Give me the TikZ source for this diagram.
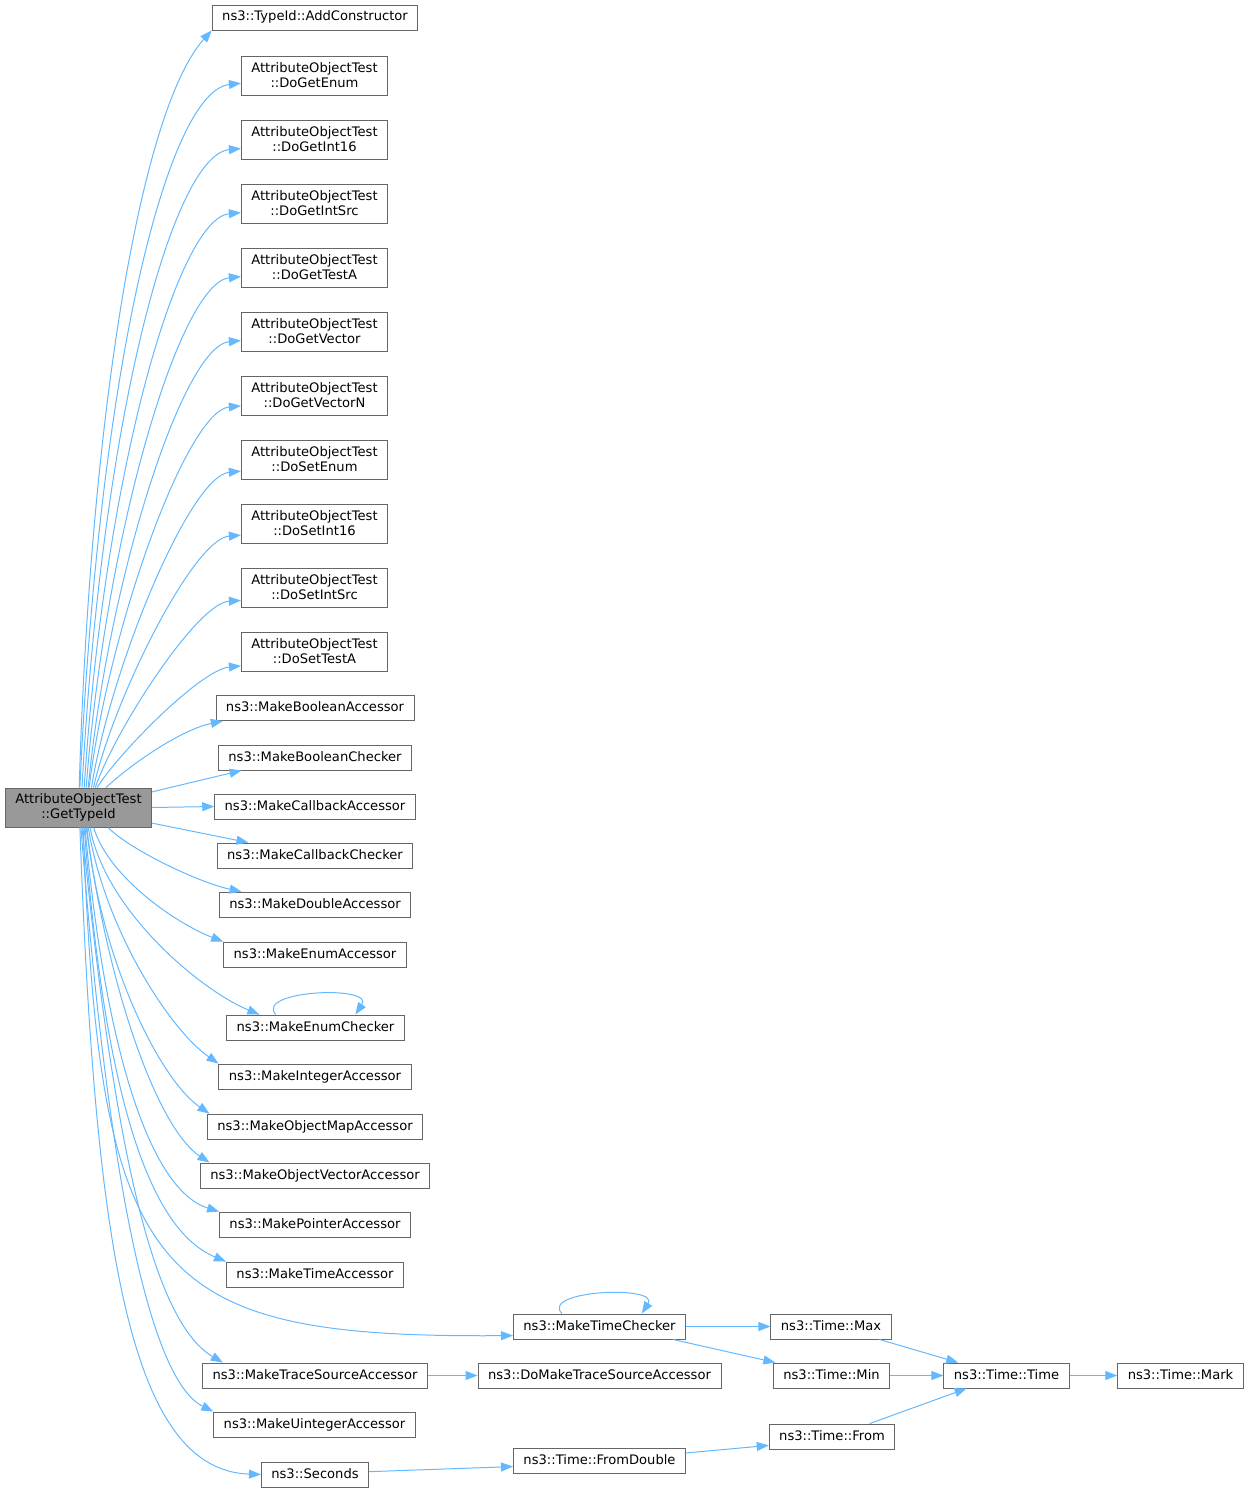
\documentclass[tikz,border=0pt]{standalone}
\usepackage{fontspec}
\setmainfont{DejaVu Sans}
\usetikzlibrary{arrows.meta}

\definecolor{edgeblue}{HTML}{63B8FF}
\definecolor{boxgray}{HTML}{666666}
\definecolor{rootfill}{HTML}{999999}

\tikzset{
  fnbox/.style={draw=boxgray, line width=0.9pt, fill=white, inner xsep=10pt, inner ysep=0pt,
    font=\fontsize{13.1}{15}\selectfont},
  fn/.style={fnbox, minimum height=25pt, text height=9.8pt, text depth=2.8pt},
  fntwo/.style={fnbox, align=center, minimum height=39pt},
  call/.style={draw=edgeblue, line width=1pt, -{Triangle[length=12pt,width=9pt]}}
}

\begin{document}
\begin{tikzpicture}[x=1pt, y=1pt]
    \useasboundingbox (0,0) rectangle (1249,-1493);

    % Define the calling function
    \node[fntwo, fill=rootfill] (root) at (78.5,-807.5) {AttributeObjectTest\\::GetTypeId};

    % Define the called functions
    \node[fn] (addc) at (315,-17.5) {ns3::TypeId::AddConstructor};
    \node[fntwo] (dogetenum) at (314.5,-75.5) {AttributeObjectTest\\::DoGetEnum};
    \node[fntwo] (dogetint16) at (314.5,-139.5) {AttributeObjectTest\\::DoGetInt16};
    \node[fntwo] (dogetintsrc) at (314.5,-203.5) {AttributeObjectTest\\::DoGetIntSrc};
    \node[fntwo] (dogettesta) at (314.5,-267.5) {AttributeObjectTest\\::DoGetTestA};
    \node[fntwo] (dogetvector) at (314.5,-331.5) {AttributeObjectTest\\::DoGetVector};
    \node[fntwo] (dogetvectorn) at (314.5,-395.5) {AttributeObjectTest\\::DoGetVectorN};
    \node[fntwo] (dosetenum) at (314.5,-459.5) {AttributeObjectTest\\::DoSetEnum};
    \node[fntwo] (dosetint16) at (314.5,-523.5) {AttributeObjectTest\\::DoSetInt16};
    \node[fntwo] (dosetintsrc) at (314.5,-587.5) {AttributeObjectTest\\::DoSetIntSrc};
    \node[fntwo] (dosettesta) at (314.5,-651.5) {AttributeObjectTest\\::DoSetTestA};
    \node[fn] (mkboolacc) at (315,-708) {ns3::MakeBooleanAccessor};
    \node[fn] (mkboolchk) at (315,-757.5) {ns3::MakeBooleanChecker};
    \node[fn] (mkcbacc) at (315,-806.5) {ns3::MakeCallbackAccessor};
    \node[fn] (mkcbchk) at (315,-855.5) {ns3::MakeCallbackChecker};
    \node[fn] (mkdblacc) at (315,-904.5) {ns3::MakeDoubleAccessor};
    \node[fn] (mkenumacc) at (315,-954.5) {ns3::MakeEnumAccessor};
    \node[fn] (mkenumchk) at (315.5,-1027.5) {ns3::MakeEnumChecker};
    \node[fn] (mkintacc) at (315,-1076.5) {ns3::MakeIntegerAccessor};
    \node[fn] (mkobjmapacc) at (315,-1126.5) {ns3::MakeObjectMapAccessor};
    \node[fn] (mkobjvecacc) at (315,-1175.5) {ns3::MakeObjectVectorAccessor};
    \node[fn] (mkptracc) at (315,-1224.5) {ns3::MakePointerAccessor};
    \node[fn] (mktimeacc) at (315,-1274.5) {ns3::MakeTimeAccessor};
    \node[fn] (mktimechk) at (599.5,-1326.5) {ns3::MakeTimeChecker};
    \node[fn] (mktraceacc) at (315,-1375.5) {ns3::MakeTraceSourceAccessor};
    \node[fn] (mkuintacc) at (314.5,-1424.5) {ns3::MakeUintegerAccessor};
    \node[fn] (seconds) at (315,-1474.5) {ns3::Seconds};

    % Define the second and third level
    \node[fn] (domktraceacc) at (599.5,-1375.5) {ns3::DoMakeTraceSourceAccessor};
    \node[fn] (fromdouble) at (599.5,-1460.5) {ns3::Time::FromDouble};
    \node[fn] (timemax) at (831,-1326.5) {ns3::Time::Max};
    \node[fn] (timemin) at (831.5,-1375.5) {ns3::Time::Min};
    \node[fn] (timefrom) at (832,-1436.5) {ns3::Time::From};
    \node[fn] (timetime) at (1006.5,-1375.5) {ns3::Time::Time};
    \node[fn] (timemark) at (1180.5,-1375.5) {ns3::Time::Mark};

    % Draw the calls going up
    \draw[call] (root.88) .. controls (90,-420) and (140,-110) .. (addc.south west);
    \draw[call] (root.86) .. controls (100,-351) and (170,-91) .. (dogetenum.186);
    \draw[call] (root.80) .. controls (102,-416) and (173,-155) .. (dogetint16.187);
    \draw[call] (root.74) .. controls (104,-476) and (177,-219) .. (dogetintsrc.187);
    \draw[call] (root.69) .. controls (106,-531) and (180,-283) .. (dogettesta.187);
    \draw[call] (root.64) .. controls (108,-580) and (183,-346) .. (dogetvector.187);
    \draw[call] (root.62) .. controls (109,-626) and (187,-411) .. (dogetvectorn.188);
    \draw[call] (root.57) .. controls (111,-666) and (190,-476) .. (dosetenum.189);
    \draw[call] (root.53) .. controls (113,-700) and (193,-539) .. (dosetint16.189);
    \draw[call] (root.50) .. controls (115,-730) and (197,-603) .. (dosetintsrc.190);
    \draw[call] (root.47) .. controls (117,-755) and (200,-670) .. (dosettesta.191);
    \draw[call] (root.36) .. controls (130,-765) and (180,-730) .. (mkboolacc.188);

    % Draw the calls to the side
    \draw[call] (root.12) -- (mkboolchk.190);
    \draw[call] (root.east) -- (mkcbacc.west);
    \draw[call] (root.348) -- (mkcbchk.169);

    % Draw the calls going down
    \draw[call] (root.326) .. controls (130,-850) and (200,-883) .. (mkdblacc.170);
    \draw[call] (root.307) .. controls (110,-880) and (180,-925) .. (mkenumacc.172);
    \draw[call] (root.300) .. controls (105,-910) and (200,-990) .. (mkenumchk.167);
    \draw[call] (root.296) .. controls (105,-930) and (170,-1030) .. (mkintacc.north west);
    \draw[call] (root.293) .. controls (100,-960) and (160,-1080) .. (mkobjmapacc.173);
    \draw[call] (root.291) .. controls (110,-1000) and (160,-1130) .. (mkobjvecacc.173);
    \draw[call] (root.288) .. controls (105,-1050) and (150,-1190) .. (mkptracc.north west);
    \draw[call] (root.286) .. controls (105,-1100) and (150,-1230) .. (mktimeacc.north west);
    \draw[call] (root.283) .. controls (100,-1280) and (150,-1338) .. (mktimechk.186);
    \draw[call] (root.280) .. controls (112,-1130) and (150,-1320) .. (mktraceacc.172);
    \draw[call] (root.277) .. controls (108,-1180) and (150,-1380) .. (mkuintacc.north west);
    \draw[call] (root.274) .. controls (95,-1250) and (130,-1470) .. (seconds.west);

    % Draw the self calls
    \draw[call] (mkenumchk.162) .. controls (255,-990) and (375,-985) .. (mkenumchk.18);
    \draw[call] (mktimechk.161) .. controls (540,-1290) and (660,-1285) .. (mktimechk.17);

    % Draw the deeper calls
    \draw[call] (mktimechk.east) -- (timemax.west);
    \draw[call] (mktimechk.350) -- (timemin.167);
    \draw[call] (timemax.345) -- (timetime.165);
    \draw[call] (timemin.east) -- (timetime.west);
    \draw[call] (timefrom.19) -- (timetime.198);
    \draw[call] (timetime.east) -- (timemark.west);
    \draw[call] (mktraceacc.east) -- (domktraceacc.west);
    \draw[call] (seconds.3) -- (fromdouble.184);
    \draw[call] (fromdouble.5) -- (timefrom.188);

\end{tikzpicture}
\end{document}
